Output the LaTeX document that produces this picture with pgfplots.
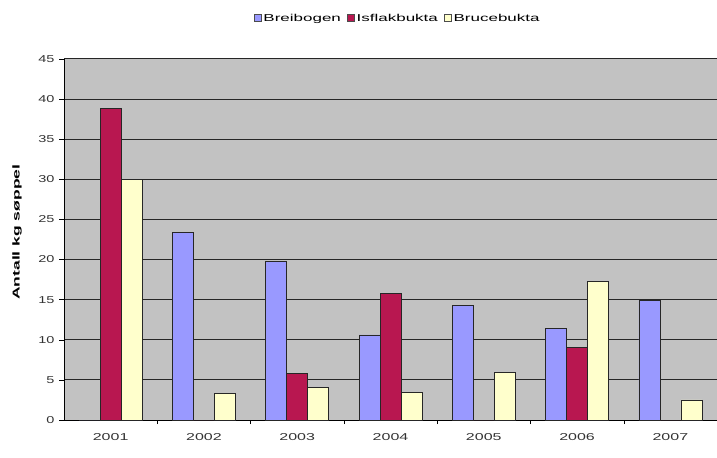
\documentclass[border=0pt]{standalone}
\usepackage{pgfplots}
\pgfplotsset{compat=1.18}
\usepackage{fontspec}
\setmainfont{Liberation Sans}

\definecolor{breib}{HTML}{9999FF}
\definecolor{isfl}{HTML}{B81750}
\definecolor{bruce}{HTML}{FFFFCC}
\definecolor{plotbg}{HTML}{C2C2C2}

% wide lettering used for the chart text
\newcommand{\wide}[1]{\scalebox{1.6}[1]{#1}}
\newcommand{\wideY}[1]{\scalebox{1.45}[1]{#1}}
\newcommand{\wideL}[1]{\scalebox{1.7}[1]{#1}}

\begin{document}
\begin{tikzpicture}
\begin{axis}[
  scale only axis,
  width=653pt, height=361pt,
  ybar=0pt, bar width=21pt,
  xmin=-0.5, xmax=6.5,
  ymin=0, ymax=45,
  xtick={0,...,6},
  xticklabels={\wide{2001},\wide{2002},\wide{2003},\wide{2004},\wide{2005},\wide{2006},\wide{2007}},
  minor xtick={0.5,1.5,...,5.5},
  major x tick style={draw=none},
  minor x tick style={black, thin},
  x tick label style={yshift=-5pt},
  ytick={0,5,...,45},
  yticklabel={\wideY{\pgfmathprintnumber{\tick}}},
  y tick label style={xshift=-1pt},
  tick align=outside,
  major tick length=5pt, minor tick length=4pt,
  ymajorgrids,
  grid style={black!85, line width=1pt},
  axis background/.style={fill=plotbg},
  axis x line*=bottom, axis y line*=left,
  axis line style={black, thin},
  ytick style={black, thin},
  tick label style={font=\fontsize{10}{12}\selectfont, text=black!80},
  /pgf/number format/assume math mode=true,
  ylabel={\scalebox{1.75}[1]{\textbf{Antall kg søppel}}},
  every axis y label/.style={at={(axis description cs:0,0.52)}, xshift=-47pt,
    rotate=90, anchor=center, font=\fontsize{10}{12}\selectfont},
  legend style={at={(0.511,1.0)}, anchor=south, yshift=32pt, draw=none, fill=none,
    font=\fontsize{10}{12}\selectfont, legend columns=3,
    /tikz/every even column/.append style={column sep=4pt}},
  legend image code/.code={\draw[#1, draw=black!70] (0pt,-3pt) rectangle (7pt,4pt);},
  every axis plot/.append style={draw=black!85, line width=0.7pt},
]
\addplot[fill=breib] coordinates {(0,0) (1,23.4) (2,19.8) (3,10.6) (4,14.3) (5,11.4) (6,14.9)};
\addplot[fill=isfl] coordinates {(0,38.8) (1,0) (2,5.8) (3,15.8) (4,0) (5,9.1) (6,0)};
\addplot[fill=bruce] coordinates {(0,30.0) (1,3.3) (2,4.1) (3,3.4) (4,5.9) (5,17.3) (6,2.5)};
\legend{\wideL{Breibogen}, \wideL{Isflakbukta}, \wideL{Brucebukta}}
\end{axis}
\pgfresetboundingbox
\path[use as bounding box] (current axis.south west) ++(-64pt,-37pt) rectangle ([yshift=59pt]current axis.north east);
\end{tikzpicture}
\end{document}
